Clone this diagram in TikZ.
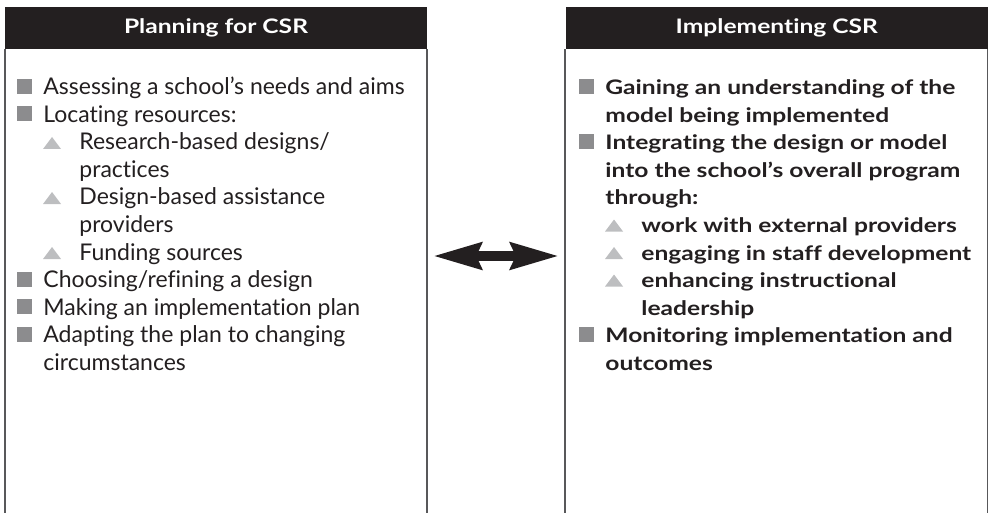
\documentclass[tikz,border=0pt]{standalone}
\usepackage{fontspec}
\setmainfont{Lato}[Ligatures=NoCommon,BoldFeatures={FakeStretch=1.23}]
\usetikzlibrary{arrows.meta,positioning}

\definecolor{headblack}{HTML}{231F20}
\definecolor{sqgray}{HTML}{8C8C8E}
\definecolor{trigray}{HTML}{BDBEC0}
\definecolor{rulegray}{HTML}{58585A}

\tikzset{
    head/.style={fill=headblack, text=white, font=\fontsize{10}{12}\selectfont\bfseries,
                 minimum width=211pt, minimum height=21pt, inner sep=0pt},
    side/.style={draw=rulegray, line width=1pt},
    entry/.style={anchor=base west, inner sep=0pt, text=headblack},
    dblarrow/.style={line width=5pt, headblack,
                 {Stealth[length=24pt,width=13pt,inset=2.5pt]}-{Stealth[length=24pt,width=13pt,inset=2.5pt]}}
}

\begin{document}
\begin{tikzpicture}[x=0.5pt,y=-0.5pt,font=\fontsize{11.5}{13.75}\selectfont]
    \useasboundingbox (0,0) rectangle (988,513);

    % column heads
    \node[head] (planhead) at (216,28) {Planning for CSR};
    \node[head, right=69pt of planhead] (implhead) {Implementing CSR};

    % open sides of the two columns
    \draw[side] (planhead.south west) -- +(0,464);
    \draw[side] (planhead.south east) -- +(0,464);
    \draw[side] (implhead.south west) -- +(0,464);
    \draw[side] (implhead.south east) -- +(0,464);

    % planning list: 1 = item, 0 = item cont., 2 = sub item, 3 = sub cont.
    \foreach \r/\k/\t in {0/1/{Assessing a school’s needs and aims},
                          1/1/{Locating resources:},
                          2/2/{Research-based designs/},
                          3/3/{practices},
                          4/2/{Design-based assistance},
                          5/3/{providers},
                          6/2/{Funding sources},
                          7/1/{Choosing/refining a design},
                          8/1/{Making an implementation plan},
                          9/1/{Adapting the plan to changing},
                          10/0/{circumstances}} {
        \pgfmathsetmacro\y{95+27.5*\r}
        \pgfmathsetmacro\x{\k>1 ? 79 : 43}
        \node[entry] (plan\r) at (\x,\y) {\t};
        \ifnum\k=1 \fill[sqgray] (17,\y-16) rectangle (32,\y-1); \fi
        \ifnum\k=2 \fill[trigray] (43,\y-1) -- (61,\y-1) -- (52,\y-13) -- cycle; \fi
    }

    % implementing list
    \foreach \r/\k/\t in {0/1/{Gaining an understanding of the},
                          1/0/{model being implemented},
                          2/1/{Integrating the design or model},
                          3/0/{into the school’s overall program},
                          4/0/{through:},
                          5/2/{work with external providers},
                          6/2/{engaging in staff development},
                          7/2/{enhancing instructional},
                          8/3/{leadership},
                          9/1/{Monitoring implementation and},
                          10/0/{outcomes}} {
        \pgfmathsetmacro\y{95+27.5*\r}
        \pgfmathsetmacro\x{\k>1 ? 641 : 605}
        \node[entry, font=\bfseries] (impl\r) at (\x,\y) {\t};
        \ifnum\k=1 \fill[sqgray] (579,\y-16) rectangle (594,\y-1); \fi
        \ifnum\k=2 \fill[trigray] (605,\y-1) -- (623,\y-1) -- (614,\y-13) -- cycle; \fi
    }

    % two-way link between the columns
    \coordinate (larr) at (433,256);
    \coordinate (rarr) at (559,256);
    \draw[dblarrow] (larr) -- (rarr);
\end{tikzpicture}
\end{document}
